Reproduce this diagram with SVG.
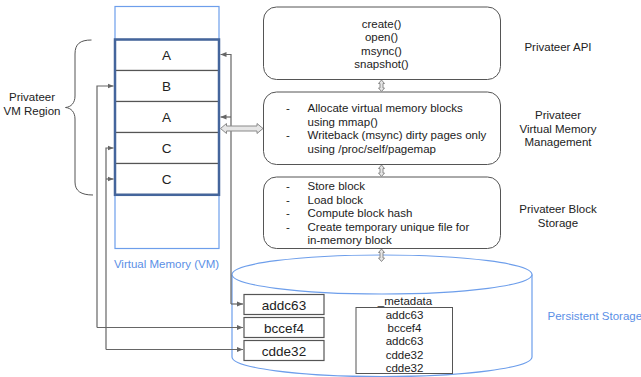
<svg xmlns="http://www.w3.org/2000/svg" width="641" height="377" viewBox="0 0 641 377">
<defs>
<style>
text{font-family:"Liberation Sans",Arial,sans-serif;fill:#222;}
.t{font-size:11.5px;}
.c{text-anchor:middle;}
.blue{fill:#5b8fe6;}
.box{fill:#fff;stroke:#555;stroke-width:1;}
.cell{fill:#fff;stroke:#555;stroke-width:1.2;}
.conn{fill:none;stroke:#666;stroke-width:1.2;}
.dbl{fill:#e6e6e6;stroke:#8a8a8a;stroke-width:1;}
.big{font-size:13.5px;}
</style>
<marker id="ah" viewBox="0 0 6 6" refX="6" refY="3" markerWidth="6" markerHeight="6" markerUnits="userSpaceOnUse" orient="auto">
<path d="M0,0.5 L6,3 L0,5.5 Z" fill="#666"/>
</marker>
</defs>
<rect width="641" height="377" fill="#fff"/>

<g id="vm">
<rect x="115" y="6.5" width="104" height="242" fill="#fff" stroke="#6d9eeb" stroke-width="1.2"/>
<text x="166.5" y="268" class="t c blue">Virtual Memory (VM)</text>
</g>

<g id="vm-region">
<rect x="115" y="39.5" width="104" height="31" class="cell"/>
<rect x="115" y="70.5" width="104" height="31" class="cell"/>
<rect x="115" y="101.5" width="104" height="31" class="cell"/>
<rect x="115" y="132.5" width="104" height="31" class="cell"/>
<rect x="115" y="163.5" width="104" height="31" class="cell"/>
<rect x="115" y="39.5" width="104" height="155.3" fill="none" stroke="#44659c" stroke-width="2.5"/>
<text x="166.5" y="60" class="big c">A</text>
<text x="166.5" y="91" class="big c">B</text>
<text x="166.5" y="122" class="big c">A</text>
<text x="166.5" y="153" class="big c">C</text>
<text x="166.5" y="184" class="big c">C</text>
</g>

<g id="brace">
<path d="M91.5,40 C80,40 75,44 75,54 L75,96 C75,103 71,107 65.5,107.5 C71,108 75,112 75,119 L75,182 C75,191 81,195 93,195" fill="none" stroke="#555" stroke-width="1"/>
<text x="32" y="101" class="t c">Privateer</text>
<text x="32" y="115" class="t c">VM Region</text>
</g>

<g id="api">
<rect x="263.5" y="7" width="237" height="72.5" rx="13" class="box"/>
<text x="381.5" y="27.5" class="t c">create()</text>
<text x="381.5" y="41" class="t c">open()</text>
<text x="381.5" y="54.5" class="t c">msync()</text>
<text x="381.5" y="68" class="t c">snapshot()</text>
<text x="558" y="51" class="t c">Privateer API</text>
</g>

<g id="vmm">
<rect x="263.5" y="92" width="237" height="72.5" rx="13" class="box"/>
<text x="286" y="112" class="t">-</text>
<text x="307.5" y="112" class="t">Allocate virtual memory blocks</text>
<text x="307.5" y="125.5" class="t">using mmap()</text>
<text x="286" y="139" class="t">-</text>
<text x="307.5" y="139" class="t">Writeback (msync) dirty pages only</text>
<text x="307.5" y="152.5" class="t">using /proc/self/pagemap</text>
<text x="558" y="119" class="t c">Privateer</text>
<text x="558" y="132.5" class="t c">Virtual Memory</text>
<text x="558" y="146" class="t c">Management</text>
</g>

<g id="storage">
<rect x="263.5" y="177" width="237" height="71.5" rx="13" class="box"/>
<text x="286" y="190" class="t">-</text>
<text x="307.5" y="190" class="t">Store block</text>
<text x="286" y="203.5" class="t">-</text>
<text x="307.5" y="203.5" class="t">Load block</text>
<text x="286" y="217" class="t">-</text>
<text x="307.5" y="217" class="t">Compute block hash</text>
<text x="286" y="230.5" class="t">-</text>
<text x="307.5" y="230.5" class="t">Create temporary unique file for</text>
<text x="307.5" y="244" class="t">in-memory block</text>
<text x="558" y="213" class="t c">Privateer Block</text>
<text x="558" y="226.5" class="t c">Storage</text>
</g>

<g id="persistent">
<path d="M232,274.5 L232,357 A150,19.5 0 0 0 532,357 L532,274.5" fill="#fff" stroke="#6d9eeb" stroke-width="1.2"/>
<ellipse cx="382" cy="274.5" rx="150" ry="19.5" fill="#fff" stroke="#6d9eeb" stroke-width="1.2"/>
<text x="547.5" y="319.5" class="t blue">Persistent Storage</text>
</g>

<g id="blocks">
<rect x="244" y="294.5" width="80" height="20" class="cell"/>
<rect x="244" y="317.5" width="80" height="20" class="cell"/>
<rect x="244" y="340.5" width="80" height="20" class="cell"/>
<text x="284" y="309.5" class="big c">addc63</text>
<text x="284" y="332.5" class="big c">bccef4</text>
<text x="284" y="355.5" class="big c">cdde32</text>
</g>

<g id="metadata">
<text x="405" y="305" class="t c">_metadata</text>
<rect x="356" y="307.5" width="96.5" height="66" fill="#fff" stroke="#555" stroke-width="1"/>
<text x="404.5" y="318.5" class="t c">addc63</text>
<text x="404.5" y="332" class="t c">bccef4</text>
<text x="404.5" y="345" class="t c">addc63</text>
<text x="404.5" y="358.5" class="t c">cdde32</text>
<text x="404.5" y="372" class="t c">cdde32</text>
</g>

<g id="connectors">
<path d="M97,327.5 L97,86 L113.5,86" class="conn" marker-end="url(#ah)"/>
<path d="M97,327.5 L243,327.5" class="conn" marker-end="url(#ah)"/>
<path d="M106,349.5 L106,148 L113.5,148" class="conn" marker-end="url(#ah)"/>
<path d="M106,349.5 L243,349.5" class="conn" marker-end="url(#ah)"/>
<path d="M106,179 L113.5,179" class="conn" marker-end="url(#ah)"/>
<path d="M231,304 L231,54.5 L220.5,54.5" class="conn" marker-end="url(#ah)"/>
<path d="M231,304 L243,304" class="conn" marker-end="url(#ah)"/>
<path d="M231,117 L220.5,117" class="conn" marker-end="url(#ah)"/>
<path d="M220.5,128.5 L226.5,123.5 L226.5,126 L257,126 L257,123.5 L263,128.5 L257,133.5 L257,131 L226.5,131 L226.5,133.5 Z" class="dbl"/>
<path d="M381.5,80 L384.5,83.5 L383,83.5 L383,88 L384.5,88 L381.5,91.5 L378.5,88 L380,88 L380,83.5 L378.5,83.5 Z" class="dbl"/>
<path d="M381.5,165 L384.5,168.5 L383,168.5 L383,173 L384.5,173 L381.5,176.5 L378.5,173 L380,173 L380,168.5 L378.5,168.5 Z" class="dbl"/>
<path d="M381.5,249 L384.5,252.5 L383,252.5 L383,258 L384.5,258 L381.5,261.5 L378.5,258 L380,258 L380,252.5 L378.5,252.5 Z" class="dbl"/>
</g>
</svg>
